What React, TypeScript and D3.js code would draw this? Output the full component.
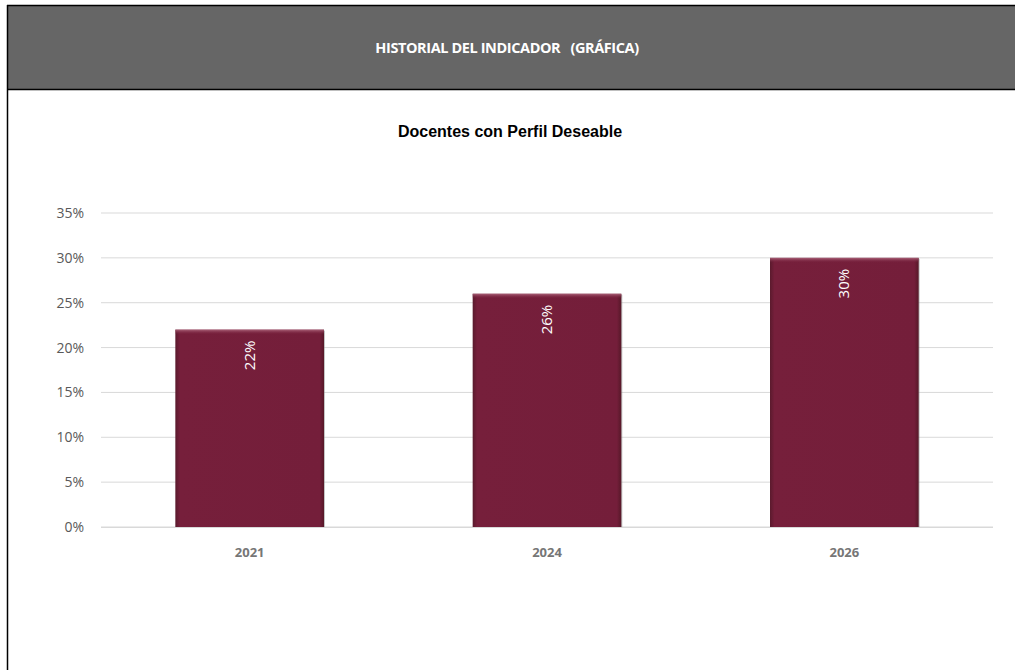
import React from "react";
import * as d3 from "d3";

const categories = ["2021", "2024", "2026"];
const values = [0.22, 0.26, 0.3];
const yTicks = [0, 0.05, 0.1, 0.15, 0.2, 0.25, 0.3, 0.35];
const headerTitle = "HISTORIAL DEL INDICADOR   (GRÁFICA)";
const chartTitle = "Docentes con Perfil Deseable";

const W = 1015;
const H = 670;
const plot = { left: 101, right: 993, top: 213, bottom: 527 };

export default function App() {
  const x = d3
    .scaleBand<string>()
    .domain(categories)
    .range([plot.left, plot.right])
    .paddingInner(0.5)
    .paddingOuter(0.25);
  const y = d3.scaleLinear().domain([0, 0.35]).range([plot.bottom, plot.top]);
  const fmt = d3.format(".0%");

  return (
    <div style={{ position: "absolute", left: 0, top: 0 }}>
      <svg width={W} height={H} style={{ display: "block" }}>
        <defs>
          <linearGradient id="barGrad" x1="0" x2="1" y1="0" y2="0">
            <stop offset="0" stopColor="#5a1a2d" />
            <stop offset="0.03" stopColor="#761f3b" />
            <stop offset="0.97" stopColor="#741e3a" />
            <stop offset="1" stopColor="#561828" />
          </linearGradient>
          <linearGradient id="barTop" x1="0" x2="0" y1="0" y2="1">
            <stop offset="0" stopColor="#b0697f" stopOpacity="0.9" />
            <stop offset="1" stopColor="#761f3b" stopOpacity="0" />
          </linearGradient>
        </defs>
        <rect x={0} y={0} width={W} height={H} fill="#ffffff" />
        {/* header */}
        <rect x={7} y={5} width={W - 7} height={85} fill="#666666" />
        <line x1={7} x2={W} y1={5.5} y2={5.5} stroke="#000" strokeWidth={1.5} />
        <line x1={7} x2={W} y1={89.5} y2={89.5} stroke="#000" strokeWidth={1.5} />
        <line x1={7.5} x2={7.5} y1={5} y2={H} stroke="#000" strokeWidth={1.5} />
        <text
          x={507}
          y={53}
          textAnchor="middle"
          fill="#ffffff"
          fontFamily="'Open Sans', sans-serif"
          fontWeight="bold"
          fontSize={14.5}
          style={{ whiteSpace: "pre" }}
          letterSpacing={-0.4}
        >
          {headerTitle}
        </text>
        {/* chart title */}
        <text
          x={510}
          y={137}
          textAnchor="middle"
          fill="#000"
          fontFamily="'Liberation Sans', Arial, sans-serif"
          fontWeight="bold"
          fontSize={16}
        >
          {chartTitle}
        </text>
        {/* gridlines */}
        {yTicks.map((t) => (
          <line
            key={t}
            x1={plot.left}
            x2={plot.right}
            y1={y(t)}
            y2={y(t)}
            stroke="#d9d9d9"
            strokeWidth={1}
          />
        ))}
        {yTicks.map((t) => (
          <text
            key={"l" + t}
            x={84}
            y={y(t) + 5}
            textAnchor="end"
            fill="#595959"
            fontFamily="'Open Sans', sans-serif"
            fontSize={14}
          >
            {fmt(t)}
          </text>
        ))}
        {/* bars */}
        {categories.map((c, i) => {
          const bx = x(c)!;
          const bw = x.bandwidth();
          const by = y(values[i]);
          const bh = y(0) - by;
          return (
            <g key={c}>
              <rect x={bx + 1} y={by + 1} width={bw} height={bh} fill="#8a8a8a" opacity={0.5} />
              <rect x={bx} y={by} width={bw} height={bh} fill="url(#barGrad)" />
              <rect x={bx} y={by} width={bw} height={5} fill="url(#barTop)" />
              <text
                transform={`translate(${bx + bw / 2 + 5},${by + 11}) rotate(-90)`}
                textAnchor="end"
                fill="#ffffff"
                fontFamily="'Open Sans', sans-serif"
                fontSize={15}
              >
                {fmt(values[i])}
              </text>
            </g>
          );
        })}
        <line x1={plot.left} x2={plot.right} y1={plot.bottom + 0.5} y2={plot.bottom + 0.5} stroke="#d9d9d9" />
        {categories.map((c) => (
          <text
            key={"x" + c}
            x={x(c)! + x.bandwidth() / 2}
            y={557}
            textAnchor="middle"
            fill="#767676"
            fontFamily="'Open Sans', sans-serif"
            fontWeight="bold"
            fontSize={13}
          >
            {c}
          </text>
        ))}
      </svg>
    </div>
  );
}
